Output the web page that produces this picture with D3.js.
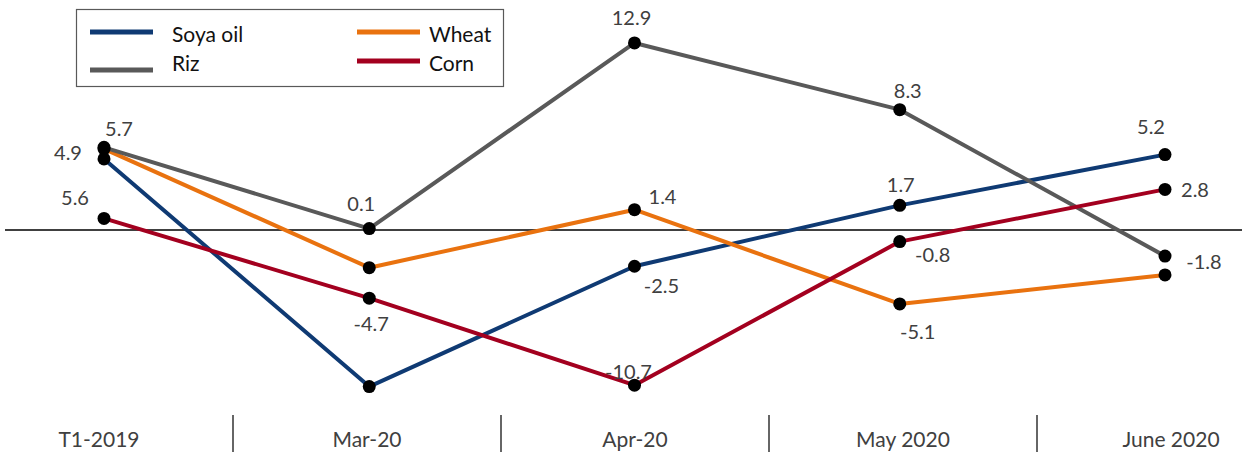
<!DOCTYPE html>
<html>
<head>
<meta charset="utf-8">
<script src="https://cdn.jsdelivr.net/npm/d3@7"></script>
<style>
  html, body { margin: 0; padding: 0; background: #fff; }
  svg { display: block; font-family: Lato, "Noto Sans", sans-serif; }
</style>
</head>
<body>
<svg id="chart" width="1253" height="452"></svg>
<script>
// Categories along the horizontal axis
const categories = ["T1-2019", "Mar-20", "Apr-20", "May 2020", "June 2020"];

// Monthly change, % (one array per commodity)
const soyaOil = [4.9, -10.8, -2.5, 1.7, 5.2];
const riz     = [5.7, 0.1, 12.9, 8.3, -1.8];
const wheat   = [5.6, -2.6, 1.4, -5.1, -3.1];
const corn    = [0.8, -4.7, -10.7, -0.8, 2.8];

const seriesNames = ["Soya oil", "Wheat", "Riz", "Corn"];

// Value labels: offset of the label centre from its marker (null = no label)
const soyaLabelPos  = [[-36, -7], null, [27, 19], [1, -21], [-14, -29]];
const rizLabelPos   = [[15, -19], [-8, -26], [-3, -26], [8, -20], [39, 5]];
const wheatLabelPos = [[-29, 48], null, [28, -14], [18, 27], null];
const cornLabelPos  = [null, [2, 25], [-6, -14], [33, 12], [30, 0]];

const colors = {
  "Soya oil": "#0f3a73",
  "Wheat": "#e9720f",
  "Riz": "#595959",
  "Corn": "#a3001f"
};

const series = [
  { name: "Soya oil", values: soyaOil, labels: soyaLabelPos },
  { name: "Wheat",    values: wheat,   labels: wheatLabelPos },
  { name: "Riz",      values: riz,     labels: rizLabelPos },
  { name: "Corn",     values: corn,    labels: cornLabelPos }
];

const svg = d3.select("#chart");

// Scales
const x = d3.scalePoint().domain(categories).range([104, 1165]);
const xBand = d3.scaleBand().domain(categories).range([-35, 1305]).padding(0);
const y = d3.scaleLinear().domain([-11, 13]).range([389.5, 41.5]);

// Number format with a plain hyphen for negatives
const fmt = v => d3.format(".1f")(v).replace("\u2212", "-");

// Zero line
svg.append("line")
  .attr("x1", 5).attr("x2", 1242)
  .attr("y1", y(0)).attr("y2", y(0))
  .attr("stroke", "#000").attr("stroke-width", 1.5);

// Category axis: labels centred in bands, separators between bands
const axisG = svg.append("g").attr("class", "x-axis");
axisG.selectAll("line.sep")
  .data(categories.slice(1))
  .join("line")
  .attr("class", "sep")
  .attr("x1", d => xBand(d)).attr("x2", d => xBand(d))
  .attr("y1", 415).attr("y2", 452)
  .attr("stroke", "#333").attr("stroke-width", 1.5);
axisG.selectAll("text")
  .data(categories)
  .join("text")
  .attr("x", d => xBand(d) + xBand.bandwidth() / 2)
  .attr("y", 438)
  .attr("text-anchor", "middle")
  .attr("dominant-baseline", "central")
  .attr("font-size", 21)
  .attr("fill", "#404040")
  .text(d => d);

// Lines
const line = d3.line()
  .x((d, i) => x(categories[i]))
  .y(d => y(d));

svg.append("g").selectAll("path")
  .data(series)
  .join("path")
  .attr("d", s => line(s.values))
  .attr("fill", "none")
  .attr("stroke", s => colors[s.name])
  .attr("stroke-width", 4)
  .attr("stroke-linejoin", "round");

// Markers
const points = series.flatMap(s => s.values.map((v, i) => ({
  name: s.name, cat: categories[i], value: v, label: s.labels[i]
})));

svg.append("g").selectAll("circle")
  .data(points)
  .join("circle")
  .attr("cx", d => x(d.cat))
  .attr("cy", d => y(d.value))
  .attr("r", 6.5)
  .attr("fill", "#000");

// Value labels
svg.append("g").selectAll("text")
  .data(points.filter(d => d.label))
  .join("text")
  .attr("x", d => x(d.cat) + d.label[0])
  .attr("y", d => y(d.value) + d.label[1])
  .attr("text-anchor", "middle")
  .attr("dominant-baseline", "central")
  .attr("font-size", 20)
  .attr("fill", "#404040")
  .text(d => fmt(d.value));

// Legend
const legend = svg.append("g").attr("class", "legend");
legend.append("rect")
  .attr("x", 76.5).attr("y", 9.5)
  .attr("width", 427).attr("height", 77)
  .attr("fill", "#fff")
  .attr("stroke", "#595959").attr("stroke-width", 1.2);

const legendItems = [
  { name: "Soya oil", lx: 90,  ly: 32, tx: 172, ty: 33 },
  { name: "Riz",      lx: 90,  ly: 70, tx: 172, ty: 62 },
  { name: "Wheat",    lx: 357, ly: 32, tx: 429, ty: 33 },
  { name: "Corn",     lx: 357, ly: 61, tx: 429, ty: 62 }
];
const li = legend.selectAll("g.item").data(legendItems).join("g").attr("class", "item");
li.append("line")
  .attr("x1", d => d.lx).attr("x2", d => d.lx + 63)
  .attr("y1", d => d.ly).attr("y2", d => d.ly)
  .attr("stroke", d => colors[d.name]).attr("stroke-width", 5);
li.append("text")
  .attr("x", d => d.tx).attr("y", d => d.ty)
  .attr("dominant-baseline", "central")
  .attr("font-size", 21)
  .attr("fill", "#111")
  .text(d => d.name);
</script>
</body>
</html>
